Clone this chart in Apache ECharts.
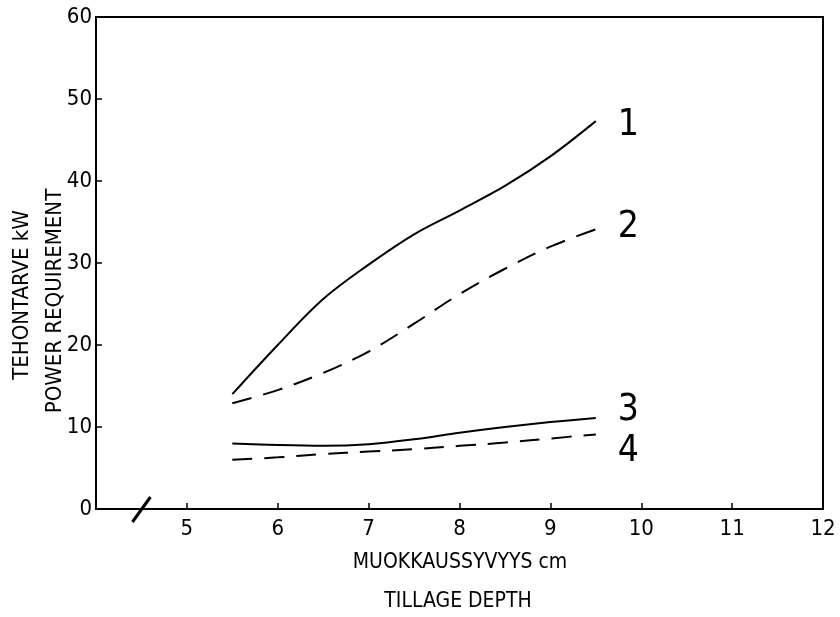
<!DOCTYPE html>
<html><head><meta charset="utf-8">
<script src="https://cdn.jsdelivr.net/npm/echarts@6/dist/echarts.min.js"></script>
<style>html,body{margin:0;padding:0;background:#fff}#c{width:840px;height:617px}</style>
</head><body><div id="c"></div>
<script>
const depth = [5.5, 6, 6.5, 7, 7.5, 8, 8.5, 9, 9.5];
const curve1 = [14.0, 20.0, 25.6, 29.8, 33.5, 36.4, 39.4, 43.0, 47.3];
const curve2 = [12.9, 14.5, 16.6, 19.2, 22.6, 26.2, 29.3, 32.0, 34.1];
const curve3 = [8.0, 7.8, 7.7, 7.9, 8.5, 9.3, 10.0, 10.6, 11.1];
const curve4 = [6.0, 6.3, 6.7, 7.0, 7.3, 7.7, 8.1, 8.6, 9.1];
const seriesNames = ['1', '2', '3', '4'];
const xTitle = ['MUOKKAUSSYVYYS cm', 'TILLAGE DEPTH'];
const yTitle = ['TEHONTARVE kW', 'POWER REQUIREMENT'];

const FONT = "'Liberation Sans Narrow', 'DejaVu Sans Condensed', 'DejaVu Sans Mono', monospace";
const chart = echarts.init(document.getElementById('c'));
const curves = [curve1, curve2, curve3, curve4];
const dashed = [false, true, false, true];
const labelOffsets = [[0, 4], [0, -2], [0, -8], [0, 17]];

const series = curves.map((vals, i) => ({
  type: 'line',
  name: seriesNames[i],
  data: depth.map((d, j) => [d, vals[j]]),
  smooth: 0.35,
  symbol: 'none',
  lineStyle: { color: '#000', width: 2, type: dashed[i] ? [20, 12] : 'solid' },
  endLabel: {
    show: true, formatter: seriesNames[i], distance: 22, offset: labelOffsets[i],
    color: '#000', fontSize: 37, fontFamily: FONT
  },
  z: 3
}));

chart.setOption({
  animation: false,
  backgroundColor: '#fff',
  grid: { left: 96, right: 17, top: 17, bottom: 108, show: true, borderColor: '#000', borderWidth: 2 },
  xAxis: {
    type: 'value', min: 4, max: 12, interval: 1,
    axisLine: { lineStyle: { color: '#000', width: 2 } },
    axisTick: { show: true, inside: true, length: 6, lineStyle: { color: '#000', width: 1.5 } },
    splitLine: { show: false },
    axisLabel: {
      color: '#000', fontSize: 22, fontFamily: FONT, margin: 9,
      formatter: v => (v === 4 ? '' : String(v))
    }
  },
  yAxis: {
    type: 'value', min: 0, max: 60, interval: 10,
    axisLine: { show: true, lineStyle: { color: '#000', width: 2 } },
    axisTick: { show: true, inside: true, length: 6, lineStyle: { color: '#000', width: 1.5 } },
    splitLine: { show: false },
    axisLabel: { color: '#000', fontSize: 22, fontFamily: FONT, margin: 4 }
  },
  series: series
});

const p = chart.convertToPixel({ gridIndex: 0 }, [4.5, 0]);
chart.setOption({
  graphic: [
    { type: 'line', shape: { x1: p[0] - 9, y1: p[1] + 13, x2: p[0] + 9, y2: p[1] - 12 },
      style: { stroke: '#000', lineWidth: 3 }, z: 10 },
    { type: 'text', x: 460, y: 563, style: { text: xTitle[0], fill: '#000', font: '21px ' + FONT, textAlign: 'center', textVerticalAlign: 'middle' } },
    { type: 'text', x: 458, y: 602, style: { text: xTitle[1], fill: '#000', font: '21px ' + FONT, textAlign: 'center', textVerticalAlign: 'middle' } },
    { type: 'text', x: 22, y: 295, rotation: Math.PI / 2, style: { text: yTitle[0], fill: '#000', font: '22px ' + FONT, textAlign: 'center', textVerticalAlign: 'middle' } },
    { type: 'text', x: 55, y: 301, rotation: Math.PI / 2, style: { text: yTitle[1], fill: '#000', font: '22px ' + FONT, textAlign: 'center', textVerticalAlign: 'middle' } }
  ]
});
</script></body></html>
